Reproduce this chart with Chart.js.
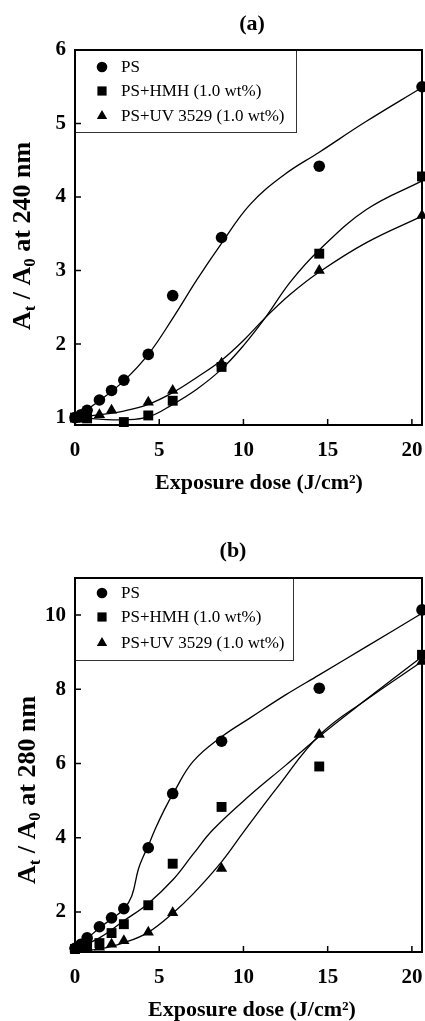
<!DOCTYPE html>
<html>
<head>
<meta charset="utf-8">
<script src="https://cdn.jsdelivr.net/npm/chart.js@4.4.0/dist/chart.umd.min.js"></script>
<style>
  body { margin: 0; background: #fff; width: 425px; height: 1021px; overflow: hidden; position: relative; }
  canvas { position: absolute; left: 0; }
  #chartA { top: 0; }
  #chartB { top: 505px; }
</style>
</head>
<body>
<canvas id="chartA" width="425" height="505"></canvas>
<canvas id="chartB" width="425" height="516"></canvas>
<script>
// tick labels
const xTicks = [0, 5, 10, 15, 20];
const yTicksA = [1, 2, 3, 4, 5, 6];
const yTicksB = [2, 4, 6, 8, 10];
const seriesNames = ['PS', 'PS+HMH (1.0 wt%)', 'PS+UV 3529 (1.0 wt%)'];

// (a) 240 nm - measured points
const doseA_ps = [0, 0.36, 0.72, 1.45, 2.17, 2.9, 4.35, 5.8, 8.7, 14.5, 20.6];
const ratioA_ps = [1.0, 1.04, 1.1, 1.24, 1.37, 1.51, 1.86, 2.66, 3.45, 4.42, 5.5];
const doseA_hmh = [0, 0.36, 0.72, 2.9, 4.35, 5.8, 8.7, 14.5, 20.6];
const ratioA_hmh = [1.0, 1.0, 0.99, 0.94, 1.03, 1.23, 1.69, 3.23, 4.28];
const doseA_uv = [0, 0.36, 0.72, 1.45, 2.17, 4.35, 5.8, 8.7, 14.5, 20.6];
const ratioA_uv = [1.0, 1.02, 1.03, 1.04, 1.1, 1.21, 1.37, 1.74, 3.0, 3.75];

// (a) fitted curves
const fitDoseA_ps = [0, 1.45, 2.9, 4.35, 5.8, 7.25, 8.7, 10.4, 12.4, 14.5, 17.3, 20.6];
const fitA_ps = [1.0, 1.23, 1.5, 1.86, 2.35, 2.88, 3.37, 3.9, 4.3, 4.61, 5.03, 5.49];
const fitDoseA_hmh = [0, 1.45, 2.9, 4.35, 5.8, 7.25, 8.7, 10, 11.3, 12.8, 14.5, 17.3, 20.6];
const fitA_hmh = [1.0, 0.98, 0.97, 1.01, 1.18, 1.39, 1.66, 1.98, 2.36, 2.85, 3.28, 3.83, 4.22];
const fitDoseA_uv = [0, 1.45, 2.9, 4.35, 5.8, 7.25, 8.7, 10, 11.3, 12.8, 14.5, 17.3, 20.6];
const fitA_uv = [1.0, 1.04, 1.09, 1.18, 1.34, 1.55, 1.78, 2.05, 2.36, 2.68, 2.98, 3.38, 3.74];

// (b) 280 nm - measured points
const doseB = [0, 0.36, 0.72, 1.45, 2.17, 2.9, 4.35, 5.8, 8.7, 14.5, 20.6];
const ratioB_ps = [1.02, 1.13, 1.3, 1.6, 1.84, 2.09, 3.73, 5.19, 6.6, 8.03, 10.14];
const ratioB_hmh = [1.0, 1.05, 1.1, 1.16, 1.43, 1.67, 2.18, 3.3, 4.83, 5.92, 8.93];
const ratioB_uv = [1.0, 1.0, 1.02, 1.05, 1.13, 1.22, 1.45, 1.98, 3.17, 6.78, 8.75];

// (b) fitted curves
const fitDoseB_ps = [0, 0.7, 1.45, 2.2, 2.9, 3.37, 3.76, 4.06, 4.35, 4.75, 5.3, 5.84, 7.0, 8.7, 10.4, 12.5, 14.5, 17.3, 20.6];
const fitB_ps = [1.0, 1.27, 1.57, 1.82, 2.08, 2.43, 3.15, 3.5, 3.78, 4.22, 4.75, 5.2, 6.05, 6.72, 7.23, 7.85, 8.39, 9.15, 10.05];
const fitDoseB_hmh = [0, 1.45, 2.9, 4.35, 5.84, 7.0, 8.2, 10.4, 12.5, 14.5, 17.3, 20.6];
const fitB_hmh = [1.0, 1.3, 1.76, 2.23, 2.88, 3.55, 4.22, 5.15, 5.95, 6.73, 7.73, 8.88];
const fitDoseB_uv = [0, 1.45, 2.97, 4.35, 5.84, 7.0, 8.7, 10, 12, 14.55, 17.3, 20.6];
const fitB_uv = [0.96, 1.0, 1.18, 1.45, 1.98, 2.48, 3.35, 4.15, 5.35, 6.78, 7.72, 8.75];

const serif = '"Liberation Serif", "Times New Roman", serif';
const markers = ['circle', 'rect', 'triangle'];
const markerSize = [5.8, 7, 6.5];

function pts(xs, ys) {
  return xs.map((x, i) => ({ x: x, y: ys[i] }));
}

// frame, inward ticks, boxed legend and the texts with subscripts
const panelPlugin = {
  id: 'panel',
  afterDatasetsDraw(chart, args, o) {
    const ctx = chart.ctx;
    const a = chart.chartArea;
    const sx = chart.scales.x, sy = chart.scales.y;
    ctx.save();

    // legend box
    ctx.fillStyle = '#fff';
    ctx.fillRect(a.left, a.top, o.legendW, o.legendH);
    ctx.strokeStyle = '#333';
    ctx.lineWidth = 1;
    ctx.strokeRect(a.left + 0.5, a.top + 0.5, o.legendW, o.legendH);
    ctx.fillStyle = '#000';
    ctx.font = '17px ' + serif;
    ctx.textBaseline = 'middle';
    ctx.textAlign = 'left';
    seriesNames.forEach((name, i) => {
      const y = a.top + o.legendRows[i];
      Chart.helpers.drawPoint(ctx, { pointStyle: markers[i], radius: markerSize[i] - 0.5, rotation: 0, borderWidth: 0 }, a.left + 27, y);
      ctx.fillText(name, a.left + 46, y + 1);
    });

    // frame and ticks
    ctx.strokeStyle = '#000';
    ctx.lineWidth = 2;
    ctx.strokeRect(a.left, a.top, a.right - a.left, a.bottom - a.top);
    ctx.lineWidth = 1.5;
    ctx.beginPath();
    sx.ticks.forEach(t => {
      const px = sx.getPixelForValue(t.value);
      ctx.moveTo(px, a.bottom);
      ctx.lineTo(px, a.bottom - 6);
    });
    sy.ticks.forEach(t => {
      const py = sy.getPixelForValue(t.value);
      ctx.moveTo(a.left, py);
      ctx.lineTo(a.left + 6, py);
    });
    ctx.stroke();
    ctx.restore();
  },
  afterDraw(chart, args, o) {
    const ctx = chart.ctx;
    ctx.save();
    ctx.fillStyle = '#000';
    ctx.textAlign = 'center';
    ctx.textBaseline = 'middle';
    ctx.font = 'bold 22px ' + serif;
    ctx.fillText(o.letter, o.letterX, o.letterY);
    ctx.font = 'bold 22px ' + serif;
    ctx.fillText('Exposure dose (J/cm\u00B2)', o.xTitleX, o.xTitleY);

    // y title: A_t / A_0 at ... nm
    const parts = [
      { text: 'A', sub: false }, { text: 't', sub: true },
      { text: ' / A', sub: false }, { text: '0', sub: true },
      { text: ' at ' + o.wave + ' nm', sub: false }
    ];
    const big = 26, small = 17;
    ctx.translate(o.yTitleX, o.yTitleY);
    ctx.rotate(-Math.PI / 2);
    ctx.textAlign = 'left';
    ctx.textBaseline = 'alphabetic';
    let total = 0;
    parts.forEach(p => {
      ctx.font = 'bold ' + (p.sub ? small : big) + 'px ' + serif;
      total += ctx.measureText(p.text).width;
    });
    let x = -total / 2;
    parts.forEach(p => {
      ctx.font = 'bold ' + (p.sub ? small : big) + 'px ' + serif;
      ctx.fillText(p.text, x, p.sub ? 5 : 0);
      x += ctx.measureText(p.text).width;
    });
    ctx.restore();
  }
};

function makePanel(id, p) {
  const datasets = [];
  p.fits.forEach(f => {
    datasets.push({
      data: pts(f[0], f[1]),
      borderColor: '#000',
      borderWidth: 1.3,
      pointRadius: 0,
      tension: 0.4,
      fill: false,
      clip: false
    });
  });
  p.points.forEach((s, i) => {
    datasets.push({
      data: pts(s[0], s[1]),
      showLine: false,
      pointStyle: markers[i],
      pointRadius: markerSize[i],
      pointBackgroundColor: '#000',
      pointBorderWidth: 0,
      clip: false
    });
  });

  const tickFont = { family: serif, size: 21, weight: 'bold' };
  // label gap comes from tickLength (grid hidden), so no extra side padding is reserved
  return new Chart(document.getElementById(id), {
    type: 'line',
    data: { datasets: datasets },
    options: {
      responsive: false,
      animation: false,
      events: [],
      layout: { autoPadding: false, padding: { top: p.top, right: 3, left: 0, bottom: 0 } },
      scales: {
        x: {
          type: 'linear', min: 0, max: 20.6,
          afterBuildTicks: s => { s.ticks = xTicks.map(v => ({ value: v })); },
          afterFit: s => { s.height = p.xHeight; },
          grid: { display: false, drawTicks: true, tickLength: 13 },
          border: { display: false },
          ticks: { color: '#000', font: tickFont, padding: 0, maxRotation: 0 }
        },
        y: {
          type: 'linear', min: p.yMin, max: p.yMax,
          afterBuildTicks: s => { s.ticks = p.yTicks.map(v => ({ value: v })); },
          afterFit: s => { s.width = 75; },
          grid: { display: false, drawTicks: true, tickLength: 9 },
          border: { display: false },
          ticks: { color: '#000', font: tickFont, padding: 0 }
        }
      },
      plugins: {
        legend: { display: false },
        tooltip: { enabled: false },
        panel: p.text
      }
    },
    plugins: [panelPlugin]
  });
}

makePanel('chartA', {
  top: 50, xHeight: 80, yMin: 0.9, yMax: 6, yTicks: yTicksA,
  fits: [[fitDoseA_ps, fitA_ps], [fitDoseA_hmh, fitA_hmh], [fitDoseA_uv, fitA_uv]],
  points: [[doseA_ps, ratioA_ps], [doseA_hmh, ratioA_hmh], [doseA_uv, ratioA_uv]],
  text: {
    letter: '(a)', letterX: 252, letterY: 24,
    xTitleX: 259, xTitleY: 483,
    yTitleX: 30, yTitleY: 236, wave: 240,
    legendW: 221, legendH: 82, legendRows: [17, 41, 66]
  }
});

makePanel('chartB', {
  top: 73, xHeight: 69, yMin: 0.92, yMax: 11, yTicks: yTicksB,
  fits: [[fitDoseB_ps, fitB_ps], [fitDoseB_hmh, fitB_hmh], [fitDoseB_uv, fitB_uv]],
  points: [[doseB, ratioB_ps], [doseB, ratioB_hmh], [doseB, ratioB_uv]],
  text: {
    letter: '(b)', letterX: 233, letterY: 46,
    xTitleX: 252, xTitleY: 505,
    yTitleX: 35, yTitleY: 285, wave: 280,
    legendW: 218, legendH: 82, legendRows: [15, 39, 65]
  }
});
</script>
</body>
</html>
